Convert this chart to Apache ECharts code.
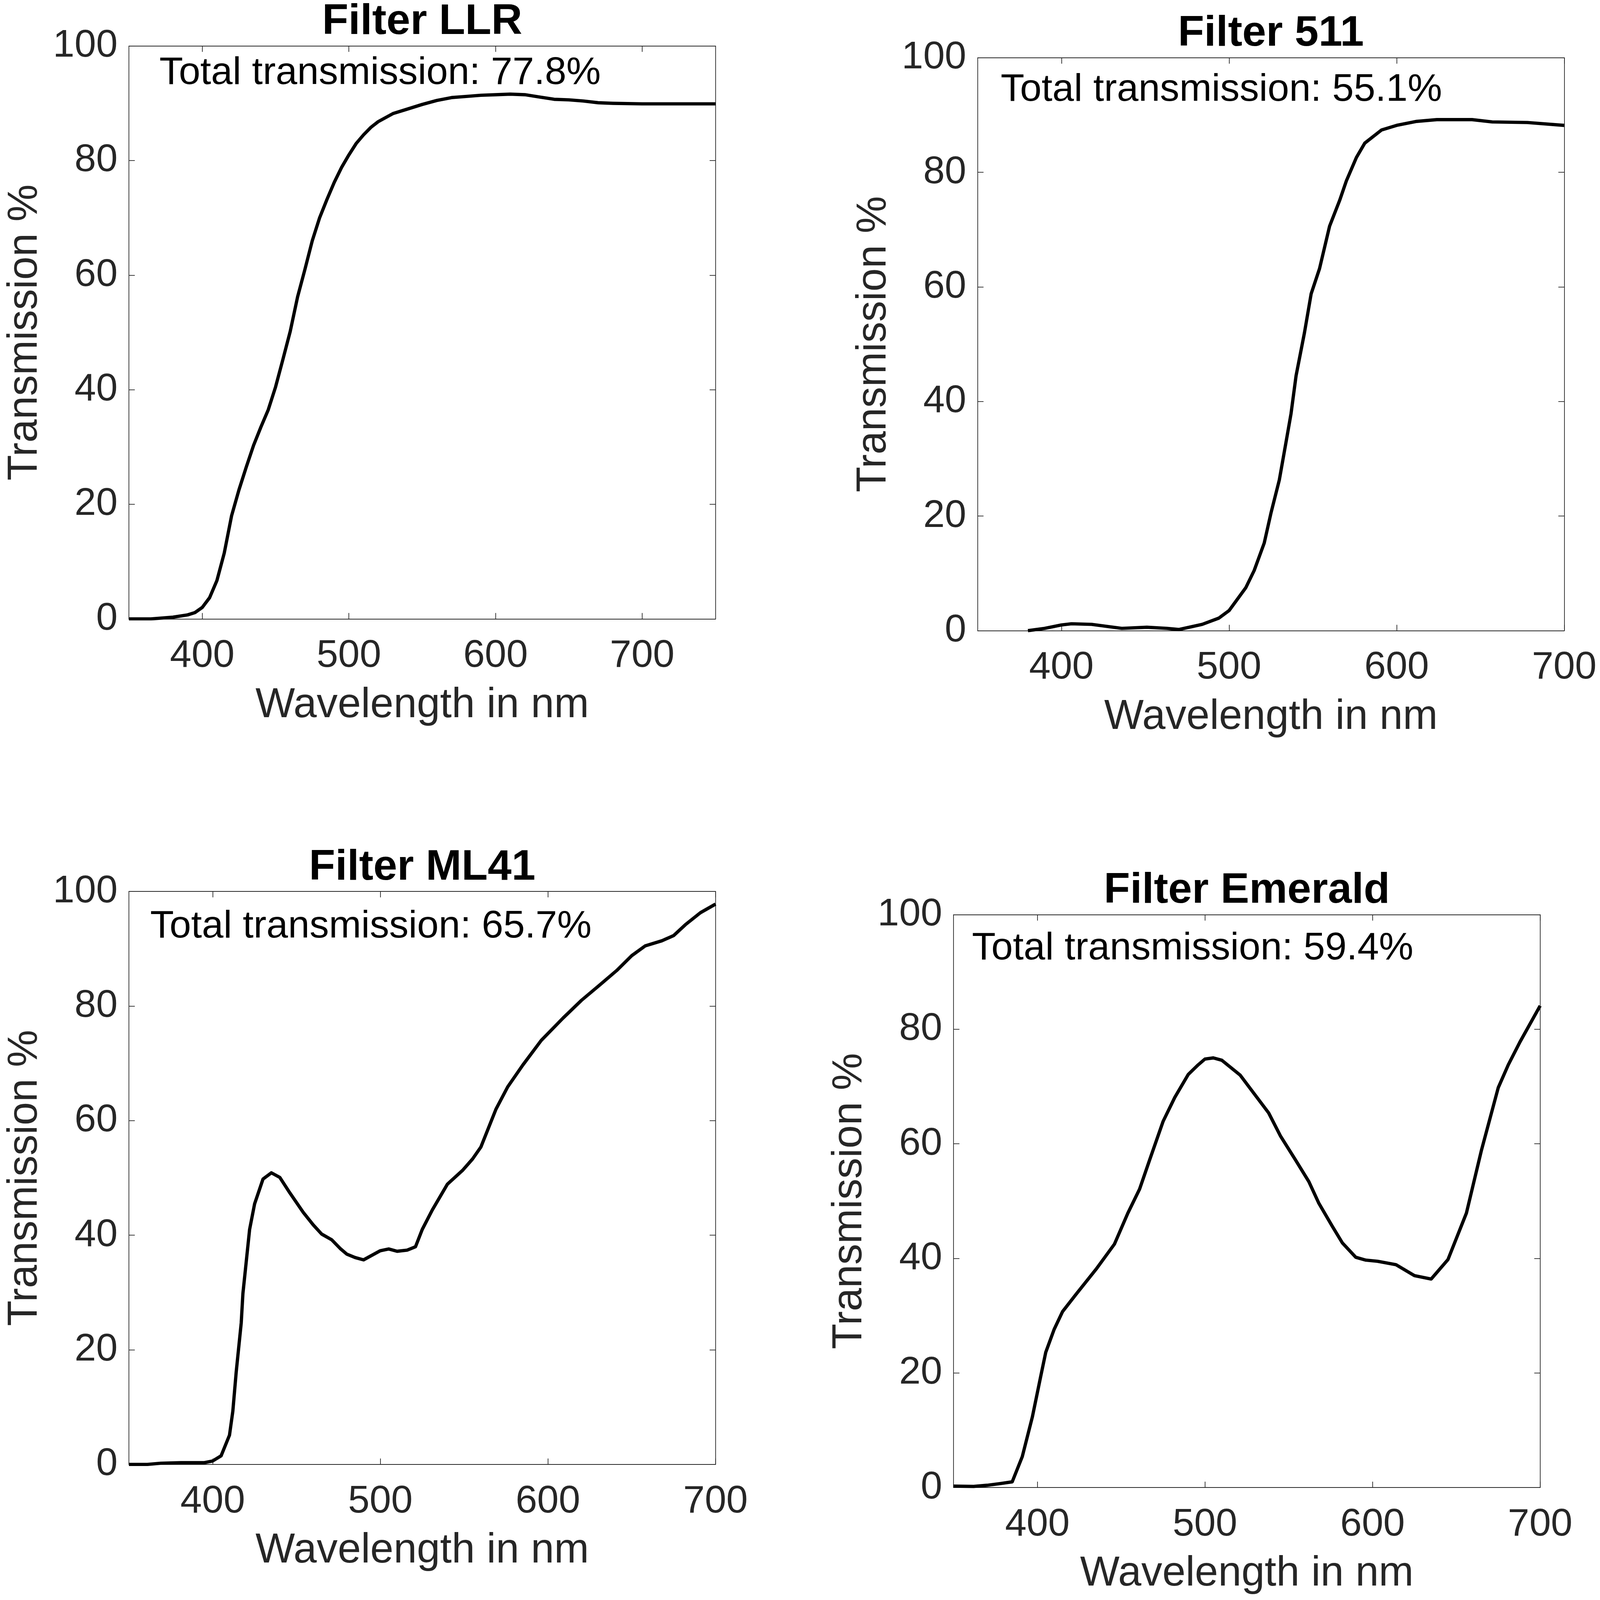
<!DOCTYPE html>
<html>
<head>
<meta charset="utf-8">
<title>Filter transmission</title>
<script src="https://cdn.jsdelivr.net/npm/echarts@6/dist/echarts.min.js"></script>
<style>
  html, body { margin: 0; padding: 0; background: #fff; overflow: hidden; }
  #chart { width: 100vw; height: 100vh; }
</style>
</head>
<body>
<div id="chart"></div>
<script>
// values
const llrWave = [350, 365, 380, 390, 395, 400, 405, 410, 415, 420, 425, 430, 435, 440, 445, 450, 455, 460, 465, 470, 475, 480, 485, 490, 495, 500, 505, 510, 515, 520, 530, 540, 550, 560, 570, 580, 590, 600, 610, 620, 630, 640, 650, 660, 670, 680, 700, 750];
const llrTrans = [0, 0, 0.3, 0.7, 1.1, 2.0, 3.7, 6.7, 11.5, 18, 22.5, 26.5, 30.3, 33.5, 36.5, 40.5, 45.3, 50.2, 56.2, 61, 66, 70, 73.2, 76.2, 78.8, 81, 83, 84.5, 85.8, 86.8, 88.2, 89, 89.8, 90.5, 91, 91.2, 91.4, 91.5, 91.6, 91.5, 91.1, 90.7, 90.6, 90.4, 90.1, 90.0, 89.9, 89.9];

const f511Wave = [380, 390, 400, 406, 418, 436, 451, 463, 470, 484, 494, 500, 510, 515, 521, 525, 530, 534, 537, 540, 545, 549, 554, 560, 566, 570, 576, 581, 591, 600, 612, 624, 645, 657, 678, 700];
const f511Trans = [0, 0.4, 1.0, 1.2, 1.1, 0.4, 0.6, 0.4, 0.2, 1.1, 2.2, 3.5, 7.5, 10.5, 15.3, 20.5, 26.3, 32.9, 37.9, 44.5, 52, 58.8, 63.2, 70.6, 75.1, 78.5, 82.6, 85.1, 87.4, 88.2, 88.9, 89.2, 89.2, 88.8, 88.7, 88.2];

const ml41Wave = [350, 361, 369, 381, 395, 400, 405, 410, 412, 414, 417, 418, 420, 422, 425, 430, 435, 440, 446, 454, 460, 465, 471, 476, 480, 485, 490, 495, 500, 505, 510, 516, 521, 525, 531, 540, 549, 555, 560, 569, 576, 585, 596, 609, 620, 631, 641, 650, 658, 668, 675, 682, 691, 700];
const ml41Trans = [0, 0, 0.2, 0.3, 0.3, 0.6, 1.5, 5.1, 9.3, 16.1, 24.7, 29.8, 35.4, 41, 45.5, 49.8, 50.9, 50.1, 47.4, 44, 41.8, 40.2, 39.2, 37.7, 36.7, 36.1, 35.7, 36.5, 37.3, 37.6, 37.2, 37.4, 38, 41, 44.4, 48.9, 51.3, 53.3, 55.4, 62, 65.9, 69.7, 74, 77.9, 81, 83.7, 86.2, 88.8, 90.5, 91.4, 92.3, 94.2, 96.3, 97.8];

const emeraldWave = [350, 362, 370, 378, 385, 391, 397, 402, 405, 410, 415, 423, 435, 446, 454, 461, 467, 475, 482, 490, 496, 500, 505, 510, 521, 530, 538, 545, 554, 562, 568, 576, 582, 590, 596, 603, 614, 625, 635, 645, 656, 665, 675, 681, 688, 700];
const emeraldTrans = [0.25, 0.2, 0.4, 0.7, 1.0, 5.4, 12.3, 19.4, 23.6, 27.6, 30.7, 33.7, 38.1, 42.5, 47.9, 52.1, 57.2, 63.9, 68.1, 72.1, 73.8, 74.8, 75.0, 74.6, 72.0, 68.5, 65.4, 61.4, 57.2, 53.4, 49.6, 45.6, 42.7, 40.2, 39.7, 39.5, 38.9, 37.0, 36.4, 39.8, 47.9, 58.9, 69.8, 73.8, 77.8, 84.1];

const titles = ['Filter LLR', 'Filter 511', 'Filter ML41', 'Filter Emerald'];
const notes = ['Total transmission: 77.8%', 'Total transmission: 55.1%', 'Total transmission: 65.7%', 'Total transmission: 59.4%'];
const xMaxes = [750, 700, 700, 700];
const xTicks = [400, 500, 600, 700];

const waves = [llrWave, f511Wave, ml41Wave, emeraldWave];
const trans = [llrTrans, f511Trans, ml41Trans, emeraldTrans];

// layout is measured on the 4517x4625 reference; the real viewport is smaller
// (it is capped), so every position is scaled to it
const REF_W = 4517;
const REF_H = 4625;
const kx = window.innerWidth / REF_W;
const ky = window.innerHeight / REF_H;
const k = Math.min(kx, ky);
const sx = (v) => v * kx;
const sy = (v) => v * ky;
const px = (v) => v * k;

// plot boxes, plus where each note sits
const boxes = [
  { left: 364, top: 133, noteLeft: 450, noteTop: 156 },
  { left: 2760, top: 167, noteLeft: 2825, noteTop: 204 },
  { left: 364, top: 2577, noteLeft: 424, noteTop: 2623 },
  { left: 2692, top: 2644, noteLeft: 2744, noteTop: 2686 },
];
const SIZE = 1656;

const FONT = '"Liberation Sans", Arial, Helvetica, sans-serif';
const INK = '#262626';

const chart = echarts.init(document.getElementById('chart'));

const grid = [];
const xAxis = [];
const yAxis = [];
const series = [];
const title = [];

const tickStyle = {
  show: true, inside: true, length: px(17), lineStyle: { color: INK, width: px(2) },
};
const lineStyle = { show: true, onZero: false, lineStyle: { color: INK, width: px(2) } };

boxes.forEach((box, i) => {
  grid.push({
    left: sx(box.left),
    top: sy(box.top),
    width: sx(SIZE),
    height: sy(SIZE),
    containLabel: false,
    outerBoundsMode: 'none',
  });

  // bottom axis with labels
  xAxis.push({
    type: 'value',
    gridIndex: i,
    position: 'bottom',
    min: 350,
    max: xMaxes[i],
    axisLine: lineStyle,
    axisTick: { ...tickStyle, customValues: xTicks },
    axisLabel: {
      customValues: xTicks, margin: sy(52), color: INK, fontSize: px(112), fontFamily: FONT,
    },
    splitLine: { show: false },
    name: 'Wavelength in nm',
    nameLocation: 'middle',
    nameGap: sy(190),
    nameTextStyle: { color: INK, fontSize: px(121), fontFamily: FONT },
  });
  // top mirror of the box
  xAxis.push({
    type: 'value',
    gridIndex: i,
    position: 'top',
    min: 350,
    max: xMaxes[i],
    axisLine: lineStyle,
    axisTick: { ...tickStyle, customValues: xTicks },
    axisLabel: { show: false },
    splitLine: { show: false },
  });

  yAxis.push({
    type: 'value',
    gridIndex: i,
    position: 'left',
    min: 0,
    max: 100,
    interval: 20,
    axisLine: lineStyle,
    axisTick: tickStyle,
    axisLabel: {
      margin: sx(32), color: INK, fontSize: px(112), fontFamily: FONT,
    },
    splitLine: { show: false },
    name: 'Transmission %',
    nameLocation: 'middle',
    nameGap: sx(234),
    nameTextStyle: { color: INK, fontSize: px(121), fontFamily: FONT },
  });
  // right mirror of the box
  yAxis.push({
    type: 'value',
    gridIndex: i,
    position: 'right',
    min: 0,
    max: 100,
    interval: 20,
    axisLine: lineStyle,
    axisTick: tickStyle,
    axisLabel: { show: false },
    splitLine: { show: false },
  });

  series.push({
    type: 'line',
    xAxisIndex: i * 2,
    yAxisIndex: i * 2,
    data: waves[i].map((w, n) => [w, trans[i][n]]),
    showSymbol: false,
    smooth: false,
    lineStyle: { color: '#000', width: px(9.5), join: 'round' },
  });

  title.push({
    text: titles[i],
    left: sx(box.left + SIZE / 2),
    top: sy(box.top - 131),
    textAlign: 'center',
    padding: 0,
    textStyle: {
      color: '#000', fontSize: px(124), fontWeight: 'bold', fontFamily: FONT,
    },
  });
  title.push({
    text: notes[i],
    left: sx(box.noteLeft),
    top: sy(box.noteTop),
    padding: 0,
    textStyle: {
      color: '#000', fontSize: px(112), fontWeight: 'normal', fontFamily: FONT,
    },
  });
});

chart.setOption({
  animation: false,
  backgroundColor: '#fff',
  title,
  grid,
  xAxis,
  yAxis,
  series,
});
window.addEventListener('resize', () => chart.resize());
</script>
</body>
</html>
